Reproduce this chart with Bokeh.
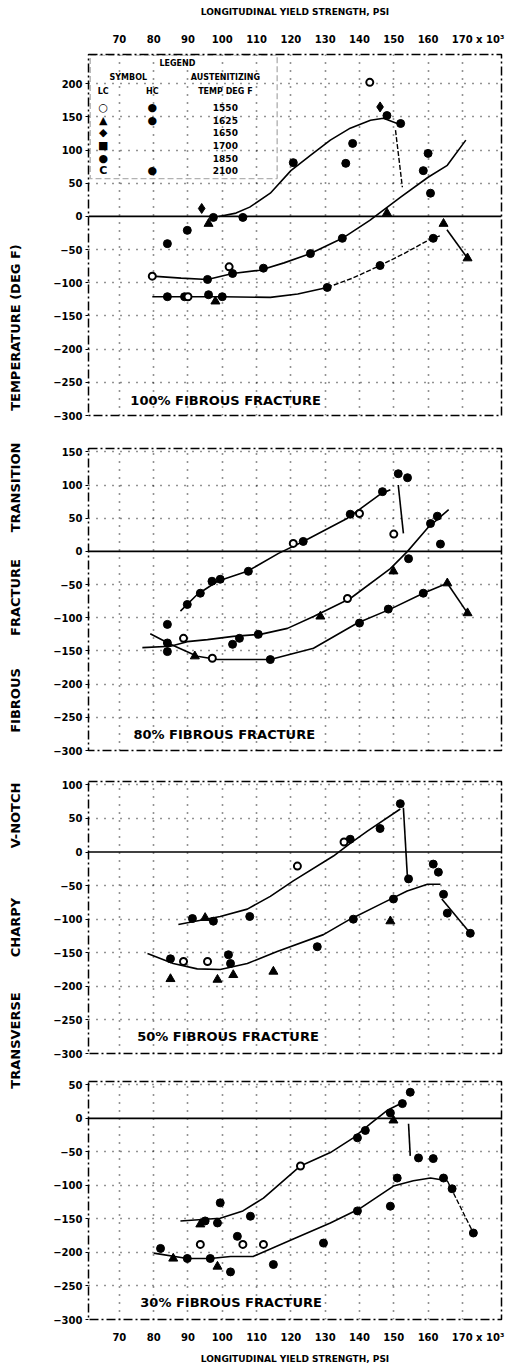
import math
from bokeh.plotting import figure
from bokeh.layouts import row, column
from bokeh.models import Range1d, FixedTicker, Grid, Span, Label, BoxAnnotation
from bokeh.core.properties import value
from bokeh.embed import file_html
from bokeh.resources import INLINE

FONT = "DejaVu Sans"

# ---------------- data ----------------
x_ticks = [70, 80, 90, 100, 110, 120, 130, 140, 150, 160, 170]
x_last_label = "170 x 10³"
x_axis_title = "LONGITUDINAL YIELD STRENGTH, PSI"
y_title_words = ["TEMPERATURE (DEG F)", "TRANSITION", "FRACTURE", "FIBROUS",
                 "V-NOTCH", "CHARPY", "TRANSVERSE"]
panel_titles = ["100% FIBROUS FRACTURE", "80% FIBROUS FRACTURE",
                "50% FIBROUS FRACTURE", "30% FIBROUS FRACTURE"]

legend_lc = ["○", "▲", "◆", "■", "●", "C"]
legend_hc = ["●", "●", "", "", "", "●"]
legend_temp = ["1550", "1625", "1650", "1700", "1850", "2100"]

# panel 1 : 100% fibrous
p1_upper_x = [99, 104, 108, 114, 120, 125.7, 131.5, 137.3, 143.2, 147, 151]
p1_upper_y = [0, 5, 14, 35, 69, 92, 115, 133, 145, 148, 140]
p1_drop_x = [150.5, 152.5]
p1_drop_y = [130, 44]
p1_mid_x = [79.6, 88, 95.7, 103, 111, 118, 125.7, 135, 143, 152, 160, 165.6, 171]
p1_mid_y = [-90, -93, -95, -86, -81, -70, -56, -33, -6, 29, 59, 77, 115]
p1_low_x = [79.6, 90, 100, 114, 122, 130.6, 138, 146, 153, 160, 163.6]
p1_low_y = [-121, -121, -121, -122, -117, -107, -93, -74, -56, -36, -29]
p1_tail_x = [165.5, 171.5]
p1_tail_y = [-20, -63]
p1_fill_x = [84, 89.8, 97.4, 106, 95.7, 103, 112, 125.7, 135, 160, 158.6, 160.7, 152,
             148, 100, 146, 130.6, 120.7, 136, 138, 161.5, 84, 89, 96]
p1_fill_y = [-41, -21, -1.5, -1.5, -95, -86, -78, -56, -33, 95, 69, 35, 140,
             152, -121, -74, -107, 81, 80, 110, -33, -121, -121, -118]
p1_open_x = [79.6, 102, 143, 90]
p1_open_y = [-90, -76, 202, -121]
p1_tri_x = [96, 171.5, 148, 164.5, 98]
p1_tri_y = [-11, -63, 5, -11, -128]
p1_dia_x = [94, 146]
p1_dia_y = [12, 165]

# panel 2 : 80% fibrous
p2_upper_x = [87.8, 92.7, 98.6, 107.3, 116.4, 123.6, 136.5, 146, 149]
p2_upper_y = [-90, -65, -45, -30, -3, 15, 50, 86, 93]
p2_drop_x = [151.3, 152.8]
p2_drop_y = [100, 27]
p2_mid_x = [76.7, 84.9, 89.8, 95.7, 103.2, 111.1, 119, 126.6, 137.3, 149, 154, 159.8, 166]
p2_mid_y = [-145, -143, -136, -133, -128, -125, -116, -98, -71, -26, 0, 35, 63]
p2_low_x = [79, 84.9, 92.7, 98.6, 105, 114, 126.6, 139.4, 149, 158.6, 165.6]
p2_low_y = [-124, -140, -158, -163, -163, -163, -146, -108, -87, -63, -48]
p2_tail_x = [165.6, 171.5]
p2_tail_y = [-48, -93]
p2_fill_x = [89.8, 93.6, 97, 99.4, 107.6, 123.6, 137.3, 146.7, 151.3, 154, 154.3, 163.6,
             160.7, 162.7, 110.5, 105, 84, 84, 114, 140, 148.4, 158.6, 84, 103]
p2_fill_y = [-80, -63, -45, -42, -30, 15, 56, 90, 117, 111, -11, 11,
             42, 53, -125, -131, -138, -151, -163, -108, -87, -63, -110, -140]
p2_open_x = [88.7, 120.7, 140, 136.5, 150, 97.1]
p2_open_y = [-131, 12, 57, -71, 26, -161]
p2_tri_x = [149.9, 128.6, 92, 165.6, 171.5]
p2_tri_y = [-30, -98, -158, -48, -93]

# panel 3 : 50% fibrous
p3_upper_x = [87.2, 99.4, 107.3, 114, 120.7, 132.4, 137.3, 142.3, 151.9]
p3_upper_y = [-108, -96, -85, -66, -43, -6, 13, 31, 64]
p3_drop_x = [152.8, 154]
p3_drop_y = [66, -40]
p3_low_x = [78.2, 85.7, 92.7, 99.4, 107.3, 116, 129.5, 137.3, 146, 153.9, 159.8, 163.6]
p3_low_y = [-151, -166, -174, -175, -166, -148, -123, -100, -78, -58, -48, -48]
p3_tail_x = [164, 172.3]
p3_tail_y = [-70, -121]
p3_fill_x = [91.3, 97.4, 108, 137.3, 146, 151.9, 154.3, 84.9, 101.8, 102.4, 127.7, 138.2,
             149.9, 161.5, 163, 164.5, 165.6, 172.3]
p3_fill_y = [-99, -103, -96, 19, 35, 72, -40, -159, -153, -166, -141, -100,
             -70, -18, -30, -63, -91, -121]
p3_open_x = [121.9, 88.7, 95.7, 135.5]
p3_open_y = [-21, -163, -163, 15]
p3_tri_x = [98.6, 84.9, 103.2, 114.9, 149, 95]
p3_tri_y = [-190, -189, -183, -178, -103, -98]

# panel 4 : 30% fibrous
p4_upper_x = [87.8, 99.4, 106, 112, 122.8, 131.5, 138.2, 143.2, 148.1, 152.8]
p4_upper_y = [-153, -149, -138, -119, -71, -51, -29, -8, 12, 24]
p4_drop_x = [154.3, 154.8]
p4_drop_y = [-8, -56]
p4_low_x = [80, 89.8, 96.5, 102.4, 109, 120.7, 131.5, 140.3, 149.9, 155.7, 160.7, 165.6]
p4_low_y = [-201, -209, -209, -206, -206, -180, -156, -134, -101, -93, -89, -93]
p4_tail_x = [165.6, 173.2]
p4_tail_y = [-93, -171]
p4_fill_x = [154.8, 157.2, 161.5, 98.6, 99.4, 108.2, 139.4, 141.7, 149, 152.5, 82, 89.8,
             96.5, 102.4, 104.4, 114.9, 129.5, 139.4, 149, 151, 164.5, 167, 173.2, 95]
p4_fill_y = [39, -59, -60, -156, -126, -146, -29, -18, 8, 22, -194, -209,
             -209, -229, -176, -218, -186, -138, -131, -89, -89, -105, -171, -153]
p4_open_x = [93.6, 122.8, 112, 106]
p4_open_y = [-188, -71, -188, -188]
p4_tri_x = [93.6, 98.6, 149.9, 85.7]
p4_tri_y = [-158, -221, -3, -209]

# ---------------- layout constants ----------------
X_RANGE = (61, 181.4)
PAD = "\u00a0" * 9   # shifts the last tick label so that "170" sits on its tick


def style_yaxis(p, ticks):
    ax = p.yaxis[0]
    ax.ticker = FixedTicker(ticks=ticks)
    ax.major_label_text_font = FONT
    ax.major_label_text_font_style = "bold"
    ax.major_label_text_font_size = "10px"
    ax.major_label_text_color = "black"
    ax.major_tick_out = 3
    ax.major_tick_in = 0
    ax.minor_tick_line_color = None
    ax.axis_line_color = None
    ax.major_tick_line_color = "black"
    ax.major_label_standoff = 3


def style_xaxis(ax, title):
    ax.ticker = FixedTicker(ticks=x_ticks)
    ax.major_label_overrides = {x_ticks[-1]: PAD + x_last_label}
    ax.major_label_text_font = FONT
    ax.major_label_text_font_style = "bold"
    ax.major_label_text_font_size = "10px"
    ax.major_label_text_color = "black"
    ax.major_tick_line_color = None
    ax.minor_tick_line_color = None
    ax.axis_line_color = None
    ax.axis_label = title
    ax.axis_label_text_font = FONT
    ax.axis_label_text_font_style = "bold"
    ax.axis_label_text_font_size = "9px"
    ax.axis_label_text_color = "black"


def make_panel(height, yr, ticks, btop, bbot, xloc):
    p = figure(width=482, height=height, x_range=Range1d(*X_RANGE),
               y_range=Range1d(*yr), output_backend="svg", toolbar_location=None,
               x_axis_location=xloc, min_border_left=58, min_border_right=11,
               min_border_top=btop, min_border_bottom=bbot)
    p.grid.visible = False
    p.outline_line_color = "black"
    p.outline_line_width = 1.5
    p.outline_line_dash = "9 3 2 3"
    p.background_fill_color = "white"
    p.border_fill_color = "white"
    style_yaxis(p, ticks)
    p.add_layout(Grid(dimension=0, ticker=FixedTicker(ticks=x_ticks),
                      grid_line_color="black", grid_line_dash="1 7",
                      grid_line_width=1.6, grid_line_alpha=0.85))
    p.add_layout(Grid(dimension=1, ticker=FixedTicker(ticks=[t for t in ticks if t != 0]),
                      grid_line_color="black", grid_line_dash="1 7",
                      grid_line_width=1.6, grid_line_alpha=0.85))
    p.add_layout(Span(location=0, dimension="width", line_color="black", line_width=1.6))
    return p


def draw(p, curves, dashed, fills, opens, tris, dias=None, title=None, title_xy=None):
    for (xs, ys) in curves:
        p.line(xs, ys, line_color="black", line_width=1.6)
    for (xs, ys) in dashed:
        p.line(xs, ys, line_color="black", line_width=1.4, line_dash="5 2")
    fx, fy = fills
    p.scatter(fx, fy, marker="circle", size=8, fill_color="black", line_color="black")
    ox, oy = opens
    p.scatter(ox, oy, marker="circle", size=7, fill_color="white", line_color="black",
              line_width=2)
    tx, ty = tris
    p.scatter(tx, ty, marker="triangle", size=9, fill_color="black", line_color="black")
    if dias:
        dx, dy = dias
        p.scatter(dx, dy, marker="diamond", size=10, fill_color="black", line_color="black")
    if title:
        p.add_layout(Label(x=title_xy[0], y=title_xy[1], text=title, text_font=FONT,
                           text_font_style="bold", text_font_size="13px",
                           text_baseline="middle", text_color="black"))


# panel 1
p1 = make_panel(431, (-300, 244), list(range(-300, 201, 50)), 54, 16, "above")
style_xaxis(p1.xaxis[0], x_axis_title)
p1.xaxis[0].major_label_standoff = 4
p1.xaxis[0].axis_label_standoff = 14
draw(p1,
     [(p1_upper_x, p1_upper_y), (p1_mid_x, p1_mid_y), (p1_low_x[:6], p1_low_y[:6]),
      (p1_tail_x, p1_tail_y)],
     [(p1_drop_x, p1_drop_y), (p1_low_x[5:], p1_low_y[5:])],
     (p1_fill_x, p1_fill_y), (p1_open_x, p1_open_y), (p1_tri_x, p1_tri_y),
     (p1_dia_x, p1_dia_y), panel_titles[0], (73.2, -277))

# legend box inside panel 1
p1.add_layout(BoxAnnotation(left=61.5, right=116, bottom=57, top=243,
                            fill_color=None, line_color="black", line_width=1.4,
                            line_dash="6 3"))
hdr = dict(text_font=FONT, text_font_style="bold", text_font_size="8px",
           text_align="center", text_baseline="middle", text_color="black")
p1.add_layout(Label(x=86.9, y=231, text="LEGEND", **hdr))
p1.add_layout(Label(x=72.6, y=209, text="SYMBOL", **hdr))
p1.add_layout(Label(x=100.9, y=209, text="AUSTENITIZING", **hdr))
p1.add_layout(Label(x=65.3, y=188, text="LC", **hdr))
p1.add_layout(Label(x=79.6, y=188, text="HC", **hdr))
p1.add_layout(Label(x=100.9, y=188, text="TEMP DEG F", **hdr))
row_y = [164 - 19 * i for i in range(len(legend_lc))]
p1.text(x=[65.3] * len(legend_lc), y=row_y, text=legend_lc,
        text_font=value(FONT), text_font_style="bold", text_font_size="11px",
        text_align="center", text_baseline="middle", text_color="black")
p1.text(x=[79.6] * len(legend_hc), y=row_y, text=legend_hc,
        text_font=value(FONT), text_font_style="bold", text_font_size="11px",
        text_align="center", text_baseline="middle", text_color="black")
p1.text(x=[100.9] * len(legend_temp), y=row_y, text=legend_temp,
        text_font=value(FONT), text_font_style="bold", text_font_size="9px",
        text_align="center", text_baseline="middle", text_color="black")

# panel 2
p2 = make_panel(335, (-300, 155), list(range(-300, 151, 50)), 17, 16, None)
draw(p2,
     [(p2_upper_x, p2_upper_y), (p2_drop_x, p2_drop_y), (p2_mid_x, p2_mid_y),
      (p2_low_x, p2_low_y), (p2_tail_x, p2_tail_y)], [],
     (p2_fill_x, p2_fill_y), (p2_open_x, p2_open_y), (p2_tri_x, p2_tri_y),
     None, panel_titles[1], (74.1, -276))

# panel 3
p3 = make_panel(302, (-300, 105), list(range(-300, 101, 50)), 15, 15, None)
draw(p3,
     [(p3_upper_x, p3_upper_y), (p3_drop_x, p3_drop_y), (p3_low_x, p3_low_y),
      (p3_tail_x, p3_tail_y)], [],
     (p3_fill_x, p3_fill_y), (p3_open_x, p3_open_y), (p3_tri_x, p3_tri_y),
     None, panel_titles[2], (75.2, -275))

# panel 4
p4 = make_panel(298, (-300, 55), list(range(-300, 51, 50)), 13, 46, "below")
style_xaxis(p4.xaxis[0], x_axis_title)
p4.xaxis[0].major_label_standoff = 6
p4.xaxis[0].axis_label_standoff = 8
draw(p4,
     [(p4_upper_x, p4_upper_y), (p4_drop_x, p4_drop_y), (p4_low_x, p4_low_y)],
     [(p4_tail_x, p4_tail_y)],
     (p4_fill_x, p4_fill_y), (p4_open_x, p4_open_y), (p4_tri_x, p4_tri_y),
     None, panel_titles[3], (76.1, -274))

# y-axis title strip
word_centers = [327, 487, 597, 700, 815, 927, 1040]
lab = figure(width=30, height=1366, x_range=Range1d(0, 30), y_range=Range1d(0, 1366),
             output_backend="svg", toolbar_location=None, min_border=0,
             x_axis_location=None, y_axis_location=None)
lab.grid.visible = False
lab.outline_line_color = None
lab.text(x=[15] * len(y_title_words), y=[1366 - c for c in word_centers],
         text=y_title_words, angle=math.pi / 2, text_font=value(FONT),
         text_font_style="bold", text_font_size="13px", text_align="center",
         text_baseline="middle", text_color="black")

layout = row(lab, column(p1, p2, p3, p4))
open("out.html", "w").write(file_html(layout, INLINE))
